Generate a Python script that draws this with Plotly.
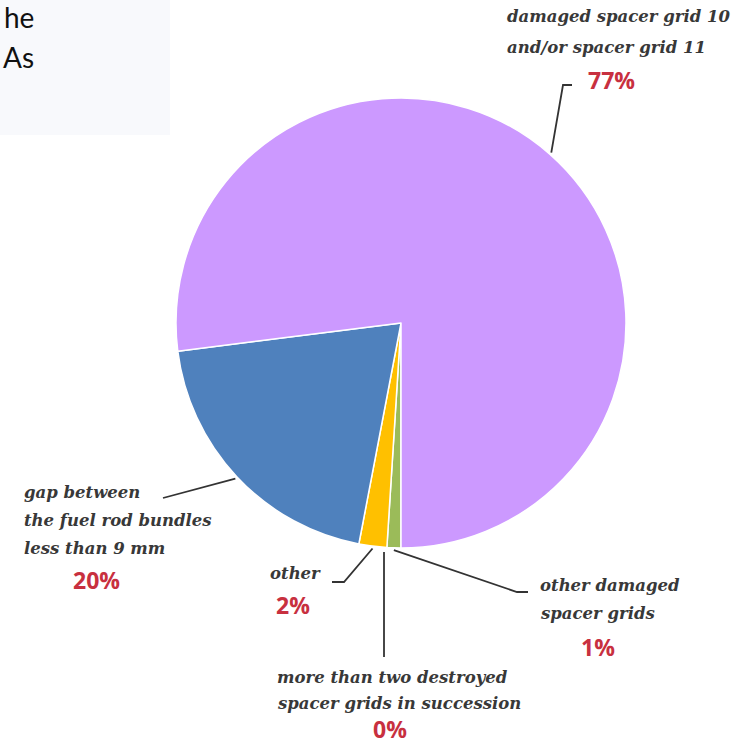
import math
import plotly.graph_objects as go

# ---- data ----
labels = [
    "more than two destroyed spacer grids in succession",
    "other damaged spacer grids",
    "other",
    "gap between the fuel rod bundles less than 9 mm",
    "damaged spacer grid 10 and/or spacer grid 11",
]
values = [0, 1, 2, 20, 77]
pct_text = ["0%", "1%", "2%", "20%", "77%"]
colors = ["#F2A33A", "#9BBB59", "#FFC000", "#4F81BD", "#CC99FF"]

W, H = 741, 744
cx, cy, R = 401, 323, 225


def px(x):
    return x / W


def py(y):
    return 1 - y / H


fig = go.Figure()
fig.add_trace(go.Pie(
    labels=labels,
    values=values,
    sort=False,
    direction="clockwise",
    rotation=180,
    marker=dict(colors=colors, line=dict(color="#FFFFFF", width=1.5)),
    textinfo="none",
    hoverinfo="label+percent",
    showlegend=False,
    domain=dict(x=[px(cx - R), px(cx + R)], y=[py(cy + R), py(cy - R)]),
))

# slice mid-angles (clockwise from 12 o'clock), start at 6 o'clock
total = sum(values)
mid = []
acc = 180.0
for v in values:
    a = 360.0 * v / total
    mid.append(acc + a / 2)
    acc += a


def edge(i, k=1.01):
    t = math.radians(mid[i])
    return cx + R * k * math.sin(t), cy - R * k * math.cos(t)


line_col = "#333333"
shapes = []


def poly(points):
    path = "M " + " L ".join(f"{px(x)},{py(y)}" for x, y in points)
    shapes.append(dict(type="path", path=path, xref="paper", yref="paper",
                       line=dict(color=line_col, width=1.8)))


poly([edge(4), (563, 85), (572, 85)])
poly([edge(3), (163, 498)])
poly([edge(2), (344, 582), (332, 582)])
poly([(384, 552), (384, 657)])
poly([edge(1), (517, 592), (528, 592)])

# faint background box at top-left
shapes.insert(0, dict(type="rect", xref="paper", yref="paper",
                      x0=px(0), x1=px(170), y0=py(135), y1=py(0),
                      fillcolor="#F8F9FC", line=dict(width=0), layer="below"))

annotations = []
lab_font = dict(family="DejaVu Serif", size=16.5, color="#383838",
                style="italic", weight="bold")
pct_font = dict(family="Open Sans", size=23, color="#C8303F", weight="bold")


def lab(text, x, y):
    annotations.append(dict(text=text, x=px(x), y=py(y), xref="paper", yref="paper",
                            xanchor="left", yanchor="middle", showarrow=False,
                            font=lab_font))


def pct(text, x, y):
    annotations.append(dict(text=text, x=px(x), y=py(y), xref="paper", yref="paper",
                            xanchor="center", yanchor="middle", showarrow=False,
                            font=pct_font))


lab("damaged spacer grid 10", 505, 17)
lab("and/or spacer grid 11", 505, 47)
pct(pct_text[4], 611, 80)

lab("gap between", 22, 492)
lab("the fuel rod bundles", 22, 520)
lab("less than 9 mm", 22, 548)
pct(pct_text[3], 96, 580)

lab("other", 268, 573)
pct(pct_text[2], 293, 605)

lab("more than two destroyed", 275, 677)
lab("spacer grids in succession", 275, 703)
pct(pct_text[0], 390, 729)

lab("other damaged", 538, 585)
lab("spacer grids", 538, 613)
pct(pct_text[1], 598, 647)

# partially visible text at the top-left
tl_font = dict(family="Lato", size=28, color="#111111")
annotations.append(dict(text="he", x=px(36), y=py(17), xref="paper", yref="paper",
                        xanchor="right", yanchor="middle", showarrow=False, font=tl_font))
annotations.append(dict(text="As", x=px(36), y=py(57), xref="paper", yref="paper",
                        xanchor="right", yanchor="middle", showarrow=False, font=tl_font))

fig.update_layout(
    width=W, height=H,
    margin=dict(l=0, r=0, t=0, b=0),
    paper_bgcolor="#FFFFFF",
    plot_bgcolor="#FFFFFF",
    shapes=shapes,
    annotations=annotations,
)

fig.write_html(
    "out.html",
    config={"displayModeBar": False},
    post_script="document.body.style.margin='0';document.body.style.overflow='hidden';",
)
